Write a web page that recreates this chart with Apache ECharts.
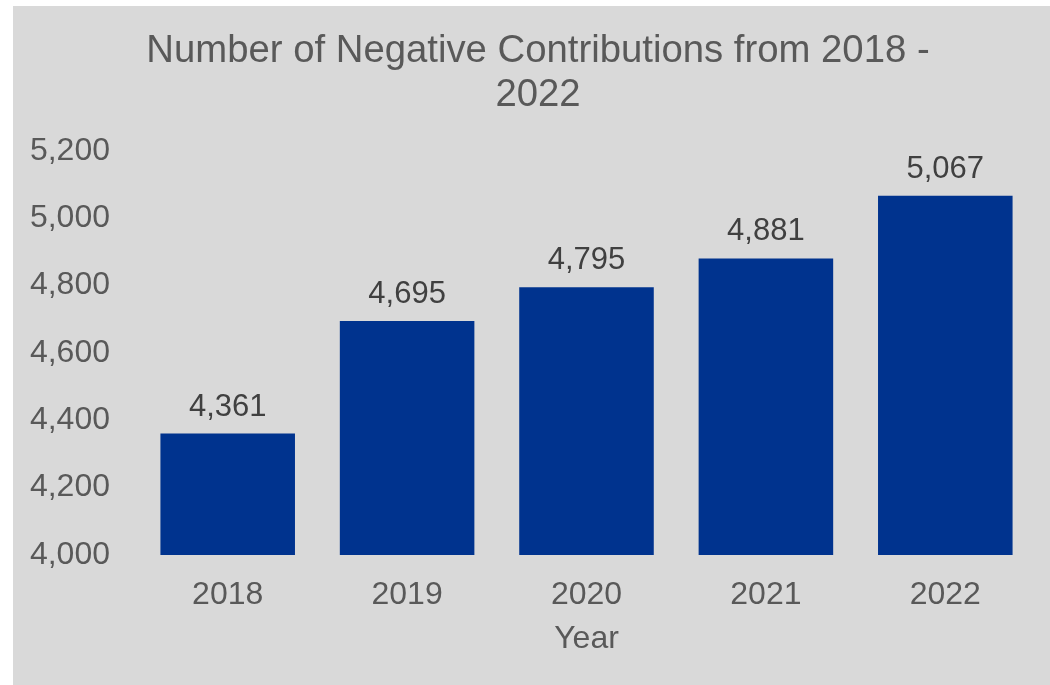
<!DOCTYPE html>
<html>
<head>
<meta charset="utf-8">
<script src="https://cdn.jsdelivr.net/npm/echarts@6/dist/echarts.min.js"></script>
<style>
html,body{margin:0;padding:0;background:#ffffff;width:1050px;height:685px;overflow:hidden;}
#chart{position:absolute;left:13px;top:6px;width:1037px;height:679px;}
</style>
</head>
<body>
<div id="chart"></div>
<script>
const titleText = "Number of Negative Contributions from 2018 -\n2022";
const categories = ["2018", "2019", "2020", "2021", "2022"];
const values = [4361, 4695, 4795, 4881, 5067];
const yMin = 4000, yMax = 5200, yStep = 200;
const xAxisName = "Year";

const fmt = v => Number(v).toLocaleString('en-US');
const chart = echarts.init(document.getElementById('chart'), null, {renderer: 'canvas'});
chart.setOption({
  backgroundColor: '#d9d9d9',
  animation: false,
  textStyle: {fontFamily: '"Liberation Sans", Arial, sans-serif'},
  title: {
    text: titleText,
    left: 525, top: 23, padding: 0,
    textAlign: 'center',
    textStyle: {fontFamily: '"Liberation Sans", Arial, sans-serif', fontSize: 38.3, fontWeight: 'normal', color: '#595959', lineHeight: 44.5}
  },
  grid: {left: 125, right: 15, top: 145, bottom: 130, containLabel: false},
  xAxis: {
    type: 'category',
    data: categories,
    name: xAxisName,
    nameLocation: 'middle',
    nameGap: 68,
    nameTextStyle: {fontSize: 32, color: '#595959', fontFamily: '"Liberation Sans", Arial, sans-serif'},
    axisLine: {show: false},
    axisTick: {show: false},
    axisLabel: {fontSize: 32, color: '#595959', margin: 24, fontFamily: '"Liberation Sans", Arial, sans-serif'}
  },
  yAxis: {
    type: 'value',
    min: yMin, max: yMax, interval: yStep,
    splitLine: {show: false},
    axisLine: {show: false},
    axisTick: {show: false},
    axisLabel: {fontSize: 32, color: '#595959', margin: 28, formatter: fmt, fontFamily: '"Liberation Sans", Arial, sans-serif'}
  },
  series: [{
    type: 'bar',
    data: values,
    barWidth: '75%',
    itemStyle: {color: '#00338e'},
    label: {
      show: true, position: 'top', distance: 11,
      fontSize: 31, color: '#404040', formatter: p => fmt(p.value),
      fontFamily: '"Liberation Sans", Arial, sans-serif'
    }
  }]
});
</script>
</body>
</html>
